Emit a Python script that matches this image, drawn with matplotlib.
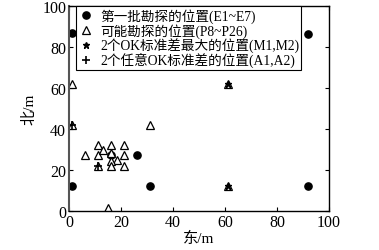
import matplotlib
matplotlib.use("Agg")
import matplotlib.pyplot as plt

plt.rcParams['font.family'] = ['Liberation Serif', 'Noto Sans CJK SC']
plt.rcParams['mathtext.fontset'] = 'stix'

# E1~E7 (first exploration)
e_x = [1, 1, 16, 26, 31, 92, 92]
e_y = [87, 12, 27.5, 27.5, 12, 86.5, 12]
# P8~P26 (possible exploration)
p_x = [1, 1, 31, 6, 11, 11, 13, 16, 16, 21, 21, 18.5, 16, 16, 21, 11, 15, 61, 61]
p_y = [42, 62, 42, 27.5, 32, 27.5, 30, 32, 28.5, 32, 27.5, 25, 24.5, 22, 22, 22, 1.5, 62, 12]
# M1, M2
m_x = [61, 61]
m_y = [62, 12]
# A1, A2
a_x = [1, 11]
a_y = [42, 22]

labels = ["第一批勘探的位置(E1~E7)", "可能勘探的位置(P8~P26)",
          "2个OK标准差最大的位置(M1,M2)", "2个任意OK标准差的位置(A1,A2)"]
xticks = [0, 20, 40, 60, 80, 100]
yticks = [0, 20, 40, 60, 80, 100]

fig = plt.figure(figsize=(3.79, 2.51), dpi=100)
ax = fig.add_axes([0.182, 0.155, 0.686, 0.817])

ax.plot(e_x, e_y, 'o', color='black', markersize=5.2, linestyle='none', label=labels[0])
ax.plot(p_x, p_y, '^', markerfacecolor='white', markeredgecolor='black', markersize=5.5,
        markeredgewidth=0.9, linestyle='none', label=labels[1])
ax.plot(m_x, m_y, '*', color='black', markersize=5, linestyle='none', label=labels[2])
ax.plot(a_x, a_y, '+', color='black', markersize=6, markeredgewidth=1.2, linestyle='none', label=labels[3])

ax.set_xlim(0, 100)
ax.set_ylim(0, 100)
ax.set_xticks(xticks)
ax.set_yticks(yticks)
ax.tick_params(direction='in', length=3, width=0.8, labelsize=11.5, top=True, right=True, pad=2)
for s in ax.spines.values():
    s.set_linewidth(1.0)
ax.spines['left'].set_color('#555555')
ax.spines['left'].set_linewidth(1.5)

ax.set_xlabel("东/m", fontsize=11, labelpad=1)
ax.set_ylabel("北/m", fontsize=11, labelpad=4)

leg = ax.legend(loc='upper left', bbox_to_anchor=(0.028, 1.0), fontsize=9.8, frameon=True,
                fancybox=False, edgecolor='black', framealpha=1, labelspacing=0.0,
                handletextpad=0.4, handlelength=1.2, borderpad=0.15, borderaxespad=0.0)
leg.get_frame().set_linewidth(0.8)

fig.savefig("out.png", dpi=100)
